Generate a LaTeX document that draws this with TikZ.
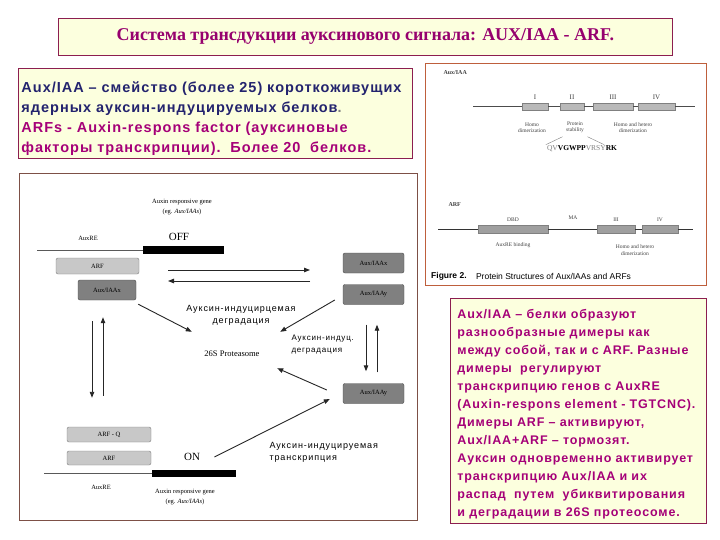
\documentclass[tikz,border=0pt]{standalone}
\usepackage{fontspec}
\setmainfont{Liberation Serif}
\setsansfont{Liberation Sans}
\newfontfamily\spacedsans[LetterSpace=7]{Liberation Sans}
\newfontfamily\labelsans[LetterSpace=10]{Liberation Sans}
\usetikzlibrary{arrows.meta, positioning}
\definecolor{titlemag}{RGB}{150,0,110}
\definecolor{textmag}{RGB}{165,0,120}
\definecolor{textnavy}{RGB}{35,35,110}
\definecolor{boxedge}{RGB}{140,30,80}
\definecolor{paleyellow}{RGB}{252,255,222}
\definecolor{figedge}{RGB}{190,95,60}
\definecolor{diagedge}{RGB}{125,80,70}
\definecolor{lightbox}{RGB}{200,200,200}
\definecolor{darkbox}{RGB}{128,128,128}
\definecolor{domaingray}{RGB}{185,185,185}

\begin{document}
\begin{tikzpicture}[x=1pt, y=-1pt,
    infobox/.style={draw=boxedge, fill=paleyellow, line width=0.8pt},
    arfbox/.style={draw=gray, fill=lightbox, rounded corners=2pt, inner sep=0pt,
                   minimum width=84, minimum height=15, font=\fontsize{6.5}{7}\selectfont},
    iaabox/.style={draw=gray!60!black, fill=darkbox, rounded corners=2pt, inner sep=0pt,
                   minimum width=61, minimum height=20, font=\fontsize{6.5}{7}\selectfont},
    genebar/.style={fill=black, inner sep=0pt},
    geneline/.style={draw=gray!70!black, line width=0.7pt},
    genelab/.style={font=\fontsize{6.5}{10}\selectfont, align=center},
    rulab/.style={font=\labelsans\fontsize{9}{12}\selectfont, align=center},
    arr/.style={-{Triangle[length=6pt, width=4.5pt]}, line width=0.9pt, black!85},
    domainbox/.style={draw=gray, fill=domaingray, inner sep=0pt, minimum height=7},
    figlab/.style={font=\fontsize{5.5}{6.5}\selectfont, align=center, text=black!75},
]
\useasboundingbox (0,0) rectangle (720,540);

% Title
\node[infobox, anchor=north west, minimum width=614, minimum height=37,
      font=\bfseries\fontsize{18}{20}\selectfont, text=titlemag] (title) at (58,18)
      {Система трансдукции ауксинового сигнала: AUX/IAA - ARF.};

% Text boxes
\node[infobox, anchor=north west, minimum width=394, minimum height=90, text width=388,
      align=left, inner sep=3pt, font=\spacedsans\bfseries\fontsize{14.5}{20}\selectfont] (auxinfo) at (18,68)
      {\rule{0pt}{21pt}\textcolor{textnavy}{Aux/IAA – смейство (более 25) короткоживущих}\\
       \textcolor{textnavy}{ядерных ауксин-индуцируемых белков}\textcolor{gray}{.}\\
       \textcolor{textmag}{ARFs - Auxin-respons factor (ауксиновые}\\
       \textcolor{textmag}{факторы транскрипции).~~Более 20~~белков.}};

\node[infobox, anchor=north west, minimum width=256, minimum height=225, text width=242,
      align=left, inner xsep=7pt, inner ysep=3pt, text=textmag,
      font=\spacedsans\bfseries\fontsize{12.5}{18}\selectfont] (dimers) at (450,298)
      {\rule{0pt}{15.5pt}Aux/IAA – белки образуют\\
       разнообразные димеры как\\
       между собой, так и с ARF. Разные\\
       димеры~ регулируют\\
       транскрипцию генов с AuxRE\\
       (Auxin-respons element - TGTCNC).\\
       Димеры ARF – активируют,\\
       Aux/IAA+ARF – тормозят.\\
       Ауксин одновременно активирует\\
       транскрипцию Aux/IAA и их\\
       распад~ путем~ убиквитирования\\
       и деградации в 26S протеосоме.};

% Protein structure figure
\node[draw=figedge, line width=1pt, fill=white, anchor=north west,
      minimum width=281, minimum height=222] (protfig) at (425,63) {};
\node[figlab, font=\bfseries\fontsize{6}{7}\selectfont, anchor=west] (iaatitle) at (440,73) {Aux/IAA};
\node[domainbox, minimum width=26, label={[figlab, font=\fontsize{7}{8}\selectfont]above:I}] (domI) at (535,106.5) {};
\node[domainbox, minimum width=24, label={[figlab, font=\fontsize{7}{8}\selectfont]above:II}] (domII) at (572,106.5) {};
\node[domainbox, minimum width=40, label={[figlab, font=\fontsize{7}{8}\selectfont]above:III}] (domIII) at (613,106.5) {};
\node[domainbox, minimum width=37, label={[figlab, font=\fontsize{7}{8}\selectfont]above:IV}] (domIV) at (656.5,106.5) {};
\coordinate (iaastart) at (473,106.5);
\coordinate (iaaend) at (695,106.5);
\draw[black!70] (iaastart) -- (domI.west) (domI.east) -- (domII.west)
      (domII.east) -- (domIII.west) (domIII.east) -- (domIV.west) (domIV.east) -- (iaaend);
\node[figlab] (homo) at (532,127.5) {Homo\\dimerization};
\node[figlab] (stab) at (575,127.5) {Protein\\stability};
\node[figlab] (hetero) at (633,127.5) {Homo and hetero\\dimerization};
\node[font=\fontsize{7.5}{8}\selectfont, inner sep=1pt] (seq) at (582,149)
      {\textcolor{gray}{QV}\textbf{VGWPP}\textcolor{gray}{VRSY}\textbf{RK}};
\draw[gray] (stab.south west) -- (seq.north west);
\draw[gray] (stab.south east) -- ([xshift=-14pt]seq.north east);

\node[figlab, font=\bfseries\fontsize{6}{7}\selectfont, anchor=west] (arftitle) at (445,205) {ARF};
\node[domainbox, fill=gray!75, minimum height=8, minimum width=70, label={[figlab]above:DBD}] (dbd) at (513,229) {};
\node[domainbox, fill=gray!75, minimum height=8, minimum width=38, label={[figlab]above:III}] (arfIII) at (616,229) {};
\node[domainbox, fill=gray!75, minimum height=8, minimum width=36, label={[figlab]above:IV}] (arfIV) at (660,229) {};
\node[figlab] (ma) at (573,218) {MA};
\coordinate (arfstart) at (438,229);
\coordinate (arfend) at (693,229);
\draw[black!80] (arfstart) -- (dbd.west) (dbd.east) -- (arfIII.west)
      (arfIII.east) -- (arfIV.west) (arfIV.east) -- (arfend);
\node[figlab] (arebind) at (513,245) {AuxRE binding};
\node[figlab] (arfhetero) at (635,250) {Homo and hetero\\dimerization};
\node[font=\sffamily\bfseries\fontsize{8.5}{9}\selectfont, anchor=west, inner sep=1pt] (figno) at (430,276) {Figure 2.};
\node[font=\sffamily\fontsize{8.5}{9}\selectfont, anchor=west, inner sep=1pt, right=7pt of figno] (caption)
      {Protein Structures of Aux/IAAs and ARFs};

% Signalling scheme
\node[draw=diagedge, line width=0.8pt, fill=white, anchor=north west,
      minimum width=398, minimum height=347] (diagbox) at (19,173) {};

% OFF state
\node[genelab] (genetop) at (182,207) {Auxin responsive gene\\(eg. \textit{Aux/IAAs})};
\node[genelab] (auxretop) at (88,238) {AuxRE};
\node[font=\fontsize{11}{12}\selectfont] (off) at (179,237) {OFF};
\node[genebar, minimum width=81, minimum height=8] (bartop) at (183.5,250) {};
\coordinate (retopstart) at (37,250);
\draw[geneline] (retopstart) -- (bartop.west);
\node[arfbox, minimum width=83, minimum height=16] (arftop) at (97.5,266) {ARF};
\node[iaabox, minimum width=58] (iaax) at (107,290) {Aux/IAAx};

\node[iaabox] (iaaxr) at (373.5,263) {Aux/IAAx};
\node[iaabox] (iaay) at (373.5,294.5) {Aux/IAAy};
\node[iaabox] (iaaylow) at (373.5,393.5) {Aux/IAAy};

\coordinate (swapL) at (168,275);
\coordinate (swapR) at (310,275);
\draw[arr] ([yshift=5pt]swapL) -- ([yshift=5pt]swapR);
\draw[arr] ([yshift=-6pt]swapR) -- ([yshift=-6pt]swapL);

% Proteasome
\node[font=\fontsize{8.5}{10}\selectfont, minimum width=80, minimum height=44, inner sep=0pt] (prot) at (232,354) {26S Proteasome};
\node[rulab] (degr1) at (241,315.5) {Ауксин-индуцирцемая\\деградация};
\node[rulab, font=\labelsans\fontsize{8}{12}\selectfont, align=left, anchor=west] (degr2) at (288,345) {Ауксин-индуц.\\деградация};

\draw[arr] ([shift={(2pt,-4pt)}]iaax.south east) -- (prot.north west);
\draw[arr] ([shift={(-8pt,-5.5pt)}]iaay.west) -- ([xshift=8pt]prot.north east);
\draw[arr] ([shift={(-16pt,3.5pt)}]iaaylow.west) -- ([shift={(5pt,8pt)}]prot.south east);

% ON state
\node[arfbox] (arfq) at (109,434.5) {ARF - Q};
\node[arfbox, minimum height=14] (arfbot) at (109,458) {ARF};
\node[font=\fontsize{11}{12}\selectfont] (on) at (192,457) {ON};
\node[genebar, minimum width=84, minimum height=7] (barbot) at (194,473.5) {};
\coordinate (rebotstart) at (44,473.5);
\draw[geneline] (rebotstart) -- (barbot.west);
\node[genelab] (auxrebot) at (101,487) {AuxRE};
\node[genelab] (genebot) at (185,497) {Auxin responsive gene\\(eg. \textit{Aux/IAAs})};
\node[rulab, align=left, anchor=west] (transcr) at (266,452) {Ауксин-индуцируемая\\транскрипция};

\draw[arr] ([xshift=11pt]on.east) -- ([shift={(-13pt,-5.5pt)}]iaaylow.west);

% Exchange between boxes
\draw[arr] ([shift={(-15pt,-21pt)}]iaax.south) -- ([shift={(-17pt,29pt)}]arfq.north);
\draw[arr] ([shift={(-6pt,31pt)}]arfq.north) -- ([shift={(-4pt,-17pt)}]iaax.south);
\draw[arr] ([shift={(-7.5pt,-20pt)}]iaay.south) -- ([shift={(-7.5pt,12pt)}]iaaylow.north);
\draw[arr] ([shift={(3.5pt,11pt)}]iaaylow.north) -- ([shift={(3.5pt,-20pt)}]iaay.south);
\end{tikzpicture}
\end{document}
